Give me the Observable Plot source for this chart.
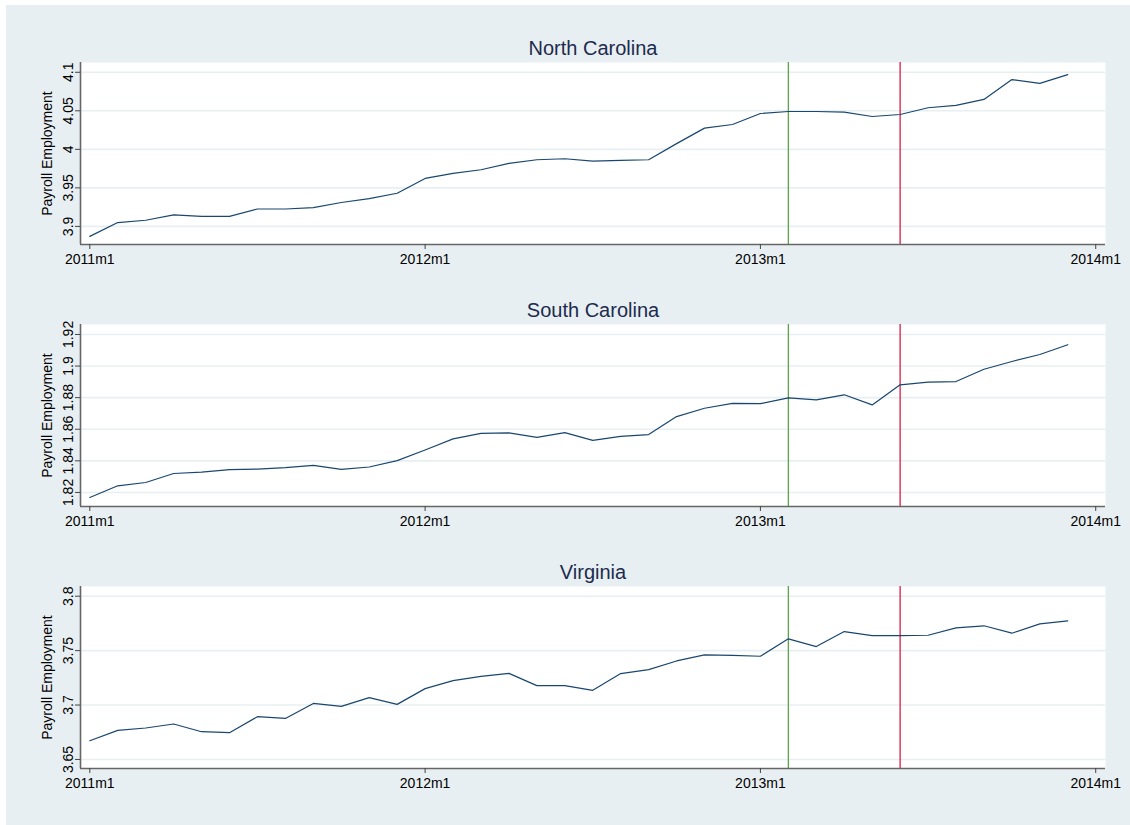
<!DOCTYPE html>
<html>
<head>
<meta charset="utf-8">
<script src="https://cdn.jsdelivr.net/npm/d3@7"></script>
<script src="https://cdn.jsdelivr.net/npm/@observablehq/plot@0.6"></script>
<style>
  html, body { margin: 0; padding: 0; background: #ffffff; }
  body { width: 1130px; height: 825px; position: relative; overflow: hidden; font-family: "Liberation Sans", Arial, Helvetica, sans-serif; }
  #bg { position: absolute; left: 6px; top: 5px; width: 1124px; height: 820px; background: #e8eff2; }
  .panel { position: absolute; left: 0; }
  .panel svg g[aria-label="x-axis tick label"],
  .panel svg g[aria-label="y-axis tick label"],
  .panel svg g[aria-label="x-axis tick label"] text,
  .panel svg g[aria-label="y-axis tick label"] text { font-size: 14px !important; font-family: "Liberation Sans", Arial, sans-serif !important; }
</style>
</head>
<body>
<div id="bg"></div>
<div id="p1" class="panel" style="top:30px"></div>
<div id="p2" class="panel" style="top:292px"></div>
<div id="p3" class="panel" style="top:554px"></div>
<script>
// ---- data (payroll employment, millions), 2011m1 .. 2013m12 ----
const startYear = 2011;
const months = d3.range(36).map(i => `${startYear + Math.floor(i / 12)}m${(i % 12) + 1}`);

const northCarolina = [3.887, 3.905, 3.908, 3.915, 3.913, 3.913, 3.9226, 3.9226, 3.9244, 3.931, 3.936, 3.943,
  3.9622, 3.9688, 3.9735, 3.9818, 3.9865, 3.9878, 3.9848, 3.9857, 3.9865, 4.0074, 4.0275, 4.0322,
  4.0465, 4.0491, 4.0491, 4.0483, 4.0426, 4.0452, 4.054, 4.057, 4.0648, 4.0905, 4.0857, 4.097];

const southCarolina = [1.8168, 1.8242, 1.8263, 1.832, 1.8329, 1.8344, 1.8348, 1.8357, 1.8371, 1.8346, 1.8361, 1.8401,
  1.8469, 1.8539, 1.8574, 1.8577, 1.8549, 1.8579, 1.853, 1.8555, 1.8566, 1.868, 1.8733, 1.8764,
  1.8762, 1.8799, 1.8786, 1.8818, 1.8754, 1.8881, 1.8898, 1.8902, 1.898, 1.9029, 1.9073, 1.9135];

const virginia = [3.6672, 3.6767, 3.6789, 3.6826, 3.6755, 3.6746, 3.6893, 3.6877, 3.7015, 3.6988, 3.7068, 3.7006,
  3.7151, 3.7224, 3.7264, 3.7291, 3.7178, 3.7178, 3.7135, 3.7289, 3.7325, 3.7405, 3.7461, 3.7457,
  3.7448, 3.7608, 3.7537, 3.7675, 3.7638, 3.7638, 3.7641, 3.7709, 3.7728, 3.766, 3.7746, 3.7774];

const xTickLabels = ["2011m1", "2012m1", "2013m1", "2014m1"];
const eventMonths = ["2013m2", "2013m6"];
const eventColors = ["#5aa64a", "#d61f48"];

const ncTicks = [3.9, 3.95, 4, 4.05, 4.1];
const scTicks = [1.82, 1.84, 1.86, 1.88, 1.9, 1.92];
const vaTicks = [3.65, 3.7, 3.75, 3.8];

const ncDomain = [3.8765, 4.1127];
const scDomain = [1.8111, 1.9263];
const vaDomain = [3.6417, 3.8089];

const yLabel = "Payroll Employment";

// month label -> month index (0 = 2011m1)
function monthIndex(label) {
  const [y, m] = label.split("m").map(Number);
  return (y - startYear) * 12 + (m - 1);
}
function monthLabel(i) {
  return `${startYear + Math.floor(i / 12)}m${(i % 12) + 1}`;
}

const xDomain = [-0.333, 36.35];

function panel(el, title, values, yTicks, yDomain) {
  const rows = values.map((v, i) => ({t: monthIndex(months[i]), v}));
  const events = eventMonths.map((m, i) => ({t: monthIndex(m), color: eventColors[i]}));
  const chart = Plot.plot({
    width: 1130,
    height: 244,
    marginLeft: 80,
    marginRight: 25,
    marginTop: 32,
    marginBottom: 30,
    style: {background: "transparent", fontFamily: "'Liberation Sans', Arial, Helvetica, sans-serif", fontSize: "14px", color: "#000"},
    x: {type: "linear", domain: xDomain},
    y: {type: "linear", domain: yDomain},
    marks: [
      Plot.frame({fill: "white"}),
      Plot.gridY(yTicks, {stroke: "#e8eff2", strokeOpacity: 1, strokeWidth: 1.6}),
      Plot.ruleX(events, {x: "t", stroke: "color", strokeWidth: 1.3}),
      Plot.lineY(rows, {x: "t", y: "v", stroke: "#1a476f", strokeWidth: 1.2}),
      Plot.ruleX([xDomain[0]], {stroke: "#666", strokeWidth: 1.6}),
      Plot.ruleY([yDomain[0]], {stroke: "#666", strokeWidth: 1.6}),
      Plot.axisX(xTickLabels.map(monthIndex), {tickFormat: monthLabel, tickSize: 5, tickPadding: 5, fontSize: 14, label: null, stroke: "#444", fill: "#000"}),
      Plot.axisY(yTicks, {tickFormat: d => `${d}`, tickRotate: -90, tickSize: 5, tickPadding: 3, fontSize: 14, label: null, stroke: "#444", fill: "#000"}),
      Plot.text([yLabel], {frameAnchor: "left", textAnchor: "middle", rotate: -90, dx: -33, lineAnchor: "middle", fontSize: 14, fill: "#000"}),
      Plot.text([title], {frameAnchor: "top", textAnchor: "middle", dy: -8, lineAnchor: "bottom", fontSize: 20, fill: "#1c2b4d"})
    ]
  });
  document.getElementById(el).appendChild(chart);
}

panel("p1", "North Carolina", northCarolina, ncTicks, ncDomain);
panel("p2", "South Carolina", southCarolina, scTicks, scDomain);
panel("p3", "Virginia", virginia, vaTicks, vaDomain);
</script>
</body>
</html>
